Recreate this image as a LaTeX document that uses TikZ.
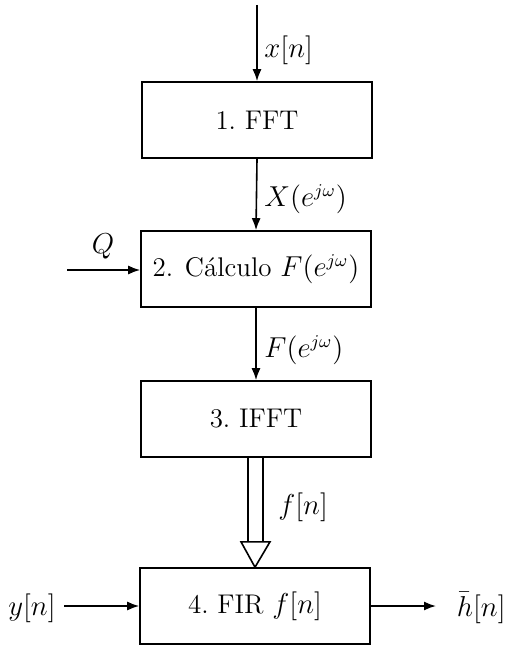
\documentclass[tikz,border=0pt]{standalone}
\usetikzlibrary{arrows.meta,calc}
\begin{document}
\begin{tikzpicture}[x=0.5pt,y=-0.5pt,
  blk/.style={draw,line width=0.8pt,minimum width=115pt,minimum height=38pt,inner sep=0pt,font=\fontsize{13.5}{16}\selectfont},
  lbl/.style={inner sep=0pt,font=\fontsize{13.5}{16}\selectfont},
  sig/.style={line width=0.8pt,-{Latex[length=6pt,width=4.5pt]}},
  bus/.style={line width=0.8pt}]
\useasboundingbox (0,0) rectangle (507,646);
\node[blk] (b1) at (257,120) {1.\ FFT};
\node[blk] (b2) at (256,269) {2. C\'alculo $F(e^{j\omega})$};
\node[blk] (b3) at (256,419) {3.\ IFFT};
\node[blk] (b4) at (255,606) {4.\ FIR $f[n]$};
\coordinate (top) at (257,5);
\coordinate (qin) at (67,270);
\coordinate (yin) at (64,606);
\coordinate (hout) at (436,606);
\node[lbl,anchor=west] (lx) at (264,50) {$x[n]$};
\node[lbl,anchor=west] (lX) at (264,199) {$X(e^{j\omega})$};
\node[lbl,anchor=west] (lF) at (264,350) {$F(e^{j\omega})$};
\node[lbl,anchor=west] (lf) at (278,507) {$f[n]$};
\node[lbl] (lQ) at (103,246) {$Q$};
\node[lbl,anchor=east] (ly) at (56,608) {$y[n]$};
\node[lbl,anchor=east] (lh) at (506,608) {$\bar{h}[n]$};
\draw[sig] (top) -- (b1.north);
\draw[sig] (b1.south) -- (b2.north);
\draw[sig] (b2.south) -- (b3.north);
\draw[sig] (qin) -- (b2.west |- qin);
\draw[sig] (yin) -- (b4.west);
\draw[sig] (b4.east) -- (hout);
% double (bus) arrow
\draw[bus] ($(b3.south)+(-8,0)$) -- ($(b3.south)+(-8,84)$);
\draw[bus] ($(b3.south)+(7,0)$) -- ($(b3.south)+(7,84)$);
\draw[bus,line join=miter] ($(b3.south)+(-15,84)$) -- ($(b3.south)+(14,84)$) -- (b4.north) -- cycle;
\end{tikzpicture}
\end{document}
